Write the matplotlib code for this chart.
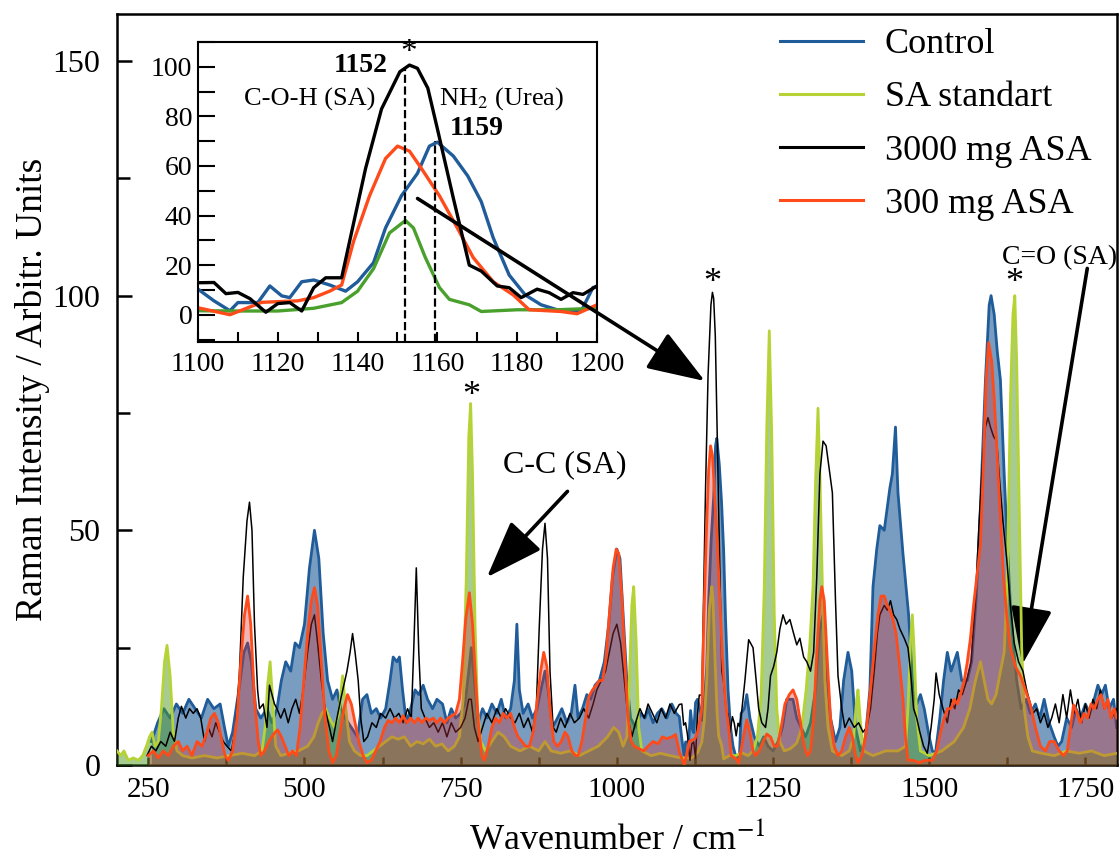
import numpy as np
import matplotlib
matplotlib.use('Agg')
import matplotlib.pyplot as plt
from matplotlib.ticker import MultipleLocator

plt.rcParams['font.family'] = 'Liberation Serif'
plt.rcParams['mathtext.fontset'] = 'stix'

# (wavenumber cm-1, intensity)
control = [
    (255, 5), (265, 9), (275, 12), (285, 10), (295, 13), (305, 11), (315, 14), (325, 12), (335, 10), (345, 14),
    (355, 12), (365, 13), (372, 8), (378, 4), (385, 7), (395, 16), (403, 24), (409, 26), (415, 22), (422, 12),
    (430, 10), (440, 12), (448, 9), (456, 12), (463, 18), (470, 22), (478, 20), (485, 26), (492, 25), (500, 30),
    (508, 42), (516, 50), (523, 44), (530, 28), (537, 18), (545, 14), (552, 16), (558, 12), (565, 10), (575, 8),
    (585, 6), (593, 14), (600, 15), (607, 11), (615, 12), (622, 10), (630, 12), (637, 18), (642, 23), (648, 22),
    (652, 23), (657, 16), (663, 9), (670, 12), (677, 16), (683, 15), (690, 17), (697, 14), (705, 12), (712, 14),
    (721, 13), (728, 9), (735, 12), (742, 10), (750, 11), (757, 13), (763, 20), (767, 25), (772, 18), (778, 9),
    (785, 12), (792, 10), (800, 13), (808, 11), (815, 14), (822, 10), (830, 12), (836, 18), (840, 30), (844, 16),
    (850, 11), (858, 13), (865, 10), (872, 12), (880, 17), (885, 20), (890, 16), (897, 8), (905, 10), (912, 12),
    (920, 9), (927, 11), (933, 17), (938, 10), (945, 12), (952, 15), (958, 14), (965, 17), (972, 18), (980, 22),
    (987, 30), (993, 40), (1000, 46), (1005, 44), (1010, 32), (1016, 18), (1022, 10), (1030, 8), (1038, 11),
    (1045, 10), (1050, 12), (1058, 9), (1065, 11), (1072, 12), (1080, 10), (1088, 13), (1095, 11), (1100, 10.3),
    (1104, 5.6), (1108, 1.6), (1110, 4.9), (1115, 4.9), (1118, 11.6), (1121, 7.6), (1123, 6.9), (1126, 13.3),
    (1129, 14), (1133, 12), (1137, 9.5), (1140, 13.3), (1144, 21), (1147, 35), (1151, 48), (1155, 57), (1158, 68),
    (1160, 69.6), (1164, 64), (1167.6, 56), (1171, 45.6), (1174, 31), (1178, 16), (1182, 8), (1186, 4), (1190, 2),
    (1196, 1.3), (1199, 11), (1204, 12), (1208, 15), (1213, 10), (1220, 6), (1228, 4), (1235, 6), (1242, 4),
    (1250, 3), (1258, 5), (1265, 8), (1272, 14), (1282, 14), (1288, 10), (1295, 8), (1302, 6), (1310, 9),
    (1318, 16), (1324, 28), (1330, 32), (1336, 20), (1342, 10), (1350, 5), (1357, 8), (1363, 18), (1370, 24),
    (1376, 20), (1382, 8), (1390, 3), (1398, 6), (1405, 16), (1410, 38), (1416, 46), (1421, 51), (1428, 50),
    (1433, 55), (1437, 59), (1441, 62), (1446, 72), (1450, 58), (1458, 45), (1467, 32), (1474, 16), (1480, 13),
    (1486, 15), (1492, 12), (1500, 6), (1505, 3), (1510, 2.5), (1517, 10), (1523, 18), (1529, 24), (1535, 20),
    (1540, 22), (1545, 24), (1552, 18), (1561, 18), (1568, 22), (1575, 35), (1582, 55), (1590, 82), (1596, 98),
    (1599, 100), (1604, 96), (1609, 88), (1614, 82), (1620, 62), (1625, 47), (1630, 34), (1635, 25), (1640, 18),
    (1647, 12), (1655, 14), (1662, 11), (1670, 13), (1677, 10), (1684, 14), (1692, 9), (1700, 6), (1706, 4),
    (1712, 5), (1720, 10), (1728, 8), (1735, 12), (1742, 10), (1750, 13), (1757, 11), (1764, 14), (1770, 17),
    (1776, 15), (1782, 17), (1788, 12), (1795, 14), (1800, 8),
]

sa_standart = [
    (200, 3), (206, 2), (211, 3), (218, 1), (226, 1.5), (234, 1), (241, 2), (247, 4), (252, 6), (256, 7),
    (261, 4), (266, 5), (271, 12), (276, 22), (280, 25.5), (285, 19), (290, 7), (296, 3), (305, 2), (320, 1.5),
    (340, 2), (360, 1.5), (380, 2), (400, 2.5), (420, 2), (432, 3), (437, 8), (441, 17), (445, 22), (449, 14),
    (454, 4), (462, 2), (475, 2.5), (490, 3), (505, 4), (515, 6), (522, 9), (528, 11), (534, 12), (540, 10),
    (548, 8), (555, 11), (561, 19), (566, 12), (572, 5), (580, 3), (590, 2), (600, 2), (610, 3), (620, 4),
    (630, 5), (640, 6), (650, 5.5), (660, 6), (670, 4), (680, 5), (690, 4.5), (700, 5.5), (710, 4), (720, 4.5),
    (730, 3), (740, 4), (748, 6), (754, 14), (759, 40), (763, 70), (766, 77), (769, 62), (773, 30), (777, 12),
    (782, 5), (790, 3), (800, 5), (810, 7), (820, 6), (830, 4), (845, 3), (860, 4), (875, 3), (885, 5),
    (895, 3), (910, 2.5), (925, 3), (940, 2), (955, 3), (970, 4), (985, 6), (995, 8), (1003, 7), (1010, 4),
    (1016, 6), (1020, 18), (1024, 34), (1027, 38), (1031, 26), (1035, 8), (1040, 3), (1055, 2), (1070, 2.5),
    (1085, 2), (1100, 1.6), (1110, 1.5), (1120, 1.5), (1129, 2.6), (1136, 4.9), (1140, 9.5), (1144, 18.6),
    (1148, 33), (1152, 38), (1154, 35), (1157, 23), (1160.5, 11), (1163, 6.2), (1168, 4), (1171, 1.3),
    (1180, 2), (1190, 2), (1200, 2.6), (1210, 2), (1218, 3), (1225, 6), (1231, 15), (1236, 38), (1240, 72),
    (1244, 92.5), (1248, 70), (1252, 32), (1256, 12), (1261, 5), (1268, 3), (1278, 3.5), (1288, 4.7),
    (1296, 8), (1303, 16), (1309, 26), (1314, 38), (1318, 60), (1322, 76), (1325, 62), (1329, 38), (1333, 18),
    (1338, 8), (1345, 3), (1360, 2), (1372, 3), (1379, 6), (1384, 14), (1386, 16), (1390, 9), (1395, 3),
    (1410, 2), (1430, 3), (1450, 3), (1462, 4), (1466, 12), (1470, 26), (1473, 32), (1476, 24), (1480, 10),
    (1486, 3), (1500, 2), (1520, 3), (1540, 5), (1555, 8), (1565, 12), (1574, 18), (1582, 22), (1588, 18),
    (1594, 14), (1600, 13), (1607, 15), (1614, 20), (1620, 24), (1625, 40), (1630, 78), (1634, 96),
    (1637, 100), (1640, 86), (1644, 55), (1648, 25), (1652, 12), (1658, 6), (1665, 3), (1680, 2.5),
    (1700, 2), (1720, 3), (1740, 2.5), (1760, 3), (1780, 2), (1800, 2.5),
]

asa_3000 = [
    (248, 2), (255, 4), (262, 3), (270, 5), (278, 4), (285, 7), (292, 5), (298, 10), (303, 12.5), (310, 10),
    (316, 12), (322, 11), (328, 12), (334, 10), (340, 5), (346, 8), (352, 6), (358, 9), (364, 7), (370, 5),
    (376, 4), (383, 3), (390, 8), (396, 20), (402, 40), (408, 52), (412, 56), (416, 50), (420, 30), (425, 16),
    (428, 12), (434, 13), (440, 8), (444, 17), (448, 15), (452, 13), (456, 12), (462, 10), (468, 12), (474, 9),
    (480, 12), (486, 14), (492, 11), (498, 16), (505, 24), (511, 30), (516, 32), (521, 26), (527, 18), (533, 12),
    (540, 8), (545, 5), (552, 10), (558, 14), (563, 17), (568, 20), (573, 24), (577, 28), (581, 24), (586, 18),
    (590, 10), (595, 5), (601, 6), (608, 9), (615, 8), (622, 11), (630, 10), (637, 12), (644, 10), (651, 11),
    (658, 9), (665, 12), (671, 10), (675, 25), (679, 42), (683, 24), (687, 12), (693, 10), (700, 8), (707, 9),
    (714, 7), (721, 9), (728, 6), (735, 9), (742, 7), (750, 8), (757, 10), (763, 14), (767, 14), (772, 8),
    (778, 5), (785, 8), (792, 11), (800, 9), (808, 12), (815, 10), (822, 12), (830, 10), (837, 9), (844, 11),
    (851, 8), (858, 10), (865, 7), (871, 12), (876, 30), (881, 46), (885, 51.5), (889, 44), (893, 20), (898, 8),
    (903, 7), (910, 10), (917, 8), (925, 11), (932, 9), (940, 10), (947, 12), (955, 10), (962, 13), (968, 16),
    (975, 18), (982, 20), (988, 24), (994, 28), (1000, 30), (1006, 26), (1012, 18), (1018, 10), (1024, 6),
    (1030, 9), (1037, 12), (1044, 10), (1050, 13), (1057, 11), (1064, 9), (1071, 12), (1078, 10), (1085, 13),
    (1092, 11), (1100, 12.9), (1104, 13), (1107, 8.5), (1110, 9), (1113, 6.5), (1117, 1), (1120, 4.5),
    (1123, 4.9), (1126, 1.5), (1129, 10.9), (1132, 14.9), (1136, 14.9), (1138, 29.6), (1142, 59), (1146, 83),
    (1150.6, 98), (1153, 100.7), (1155, 99.4), (1157.6, 91.4), (1160, 75), (1164, 47), (1168, 20), (1171, 17.6),
    (1175, 11.6), (1178, 10.9), (1181, 6.9), (1185, 10.3), (1188, 8.9), (1191, 6.2), (1194, 8.9), (1196.5, 8.2),
    (1200, 11.6), (1205, 18), (1211, 26.7), (1218, 25), (1223, 18), (1227, 12), (1232, 9), (1238, 8), (1242, 12),
    (1246, 19), (1251, 21), (1256, 24), (1261, 29), (1266, 32), (1271, 30), (1277, 31), (1283, 28), (1288, 25.6),
    (1293, 27), (1299, 23), (1304, 22), (1310, 20), (1315, 24), (1320, 40), (1325, 62), (1330, 69), (1335, 68),
    (1340, 63), (1345, 58), (1350, 35), (1354, 19), (1360, 12), (1365, 8), (1372, 10), (1380, 8), (1387, 9),
    (1394, 7), (1400, 8), (1406, 12), (1412, 20), (1417, 28), (1421, 32), (1428, 34), (1433, 33), (1438, 35),
    (1443, 32), (1448, 31), (1453, 29), (1460, 27), (1466, 25), (1470, 20), (1475, 12), (1480, 10), (1485, 7),
    (1491, 4), (1497, 2.5), (1503, 8), (1508, 14), (1511, 19.6), (1516, 15), (1522, 12), (1529, 9), (1535, 14),
    (1541, 12), (1547, 16), (1553, 15), (1560, 18), (1567, 22), (1574, 35), (1580, 52), (1586, 66), (1590, 72),
    (1594, 74), (1598, 72), (1603, 70), (1608, 69), (1613, 60), (1618, 52), (1624, 44), (1630, 34), (1636, 26),
    (1643, 22), (1650, 20), (1656, 16), (1662, 13), (1666, 11), (1672, 12), (1678, 9), (1684, 11), (1690, 8),
    (1696, 10), (1702, 13), (1708, 9), (1714, 15), (1720, 10), (1726, 16), (1732, 11), (1738, 14), (1744, 9),
    (1750, 13), (1756, 10), (1762, 14), (1768, 12), (1774, 16), (1780, 12), (1786, 14), (1792, 10), (1800, 12),
]

asa_300 = [
    (250, 2), (258, 3), (266, 1.5), (274, 3), (282, 2), (290, 4), (298, 5), (305, 3), (312, 4), (320, 2),
    (328, 5), (336, 4), (344, 7), (350, 10), (356, 11), (362, 9), (368, 5), (373, 2), (378, 1), (385, 3),
    (392, 10), (398, 22), (404, 32), (409, 36), (414, 30), (420, 14), (426, 5), (430, 2), (436, 3), (443, 5),
    (450, 6.5), (457, 7.5), (463, 6), (469, 4), (475, 2), (481, 3), (487, 2), (493, 8), (499, 18), (505, 28),
    (511, 35), (516, 37.8), (521, 34), (527, 22), (533, 10), (539, 3), (545, 0.5), (551, 2), (557, 7), (563, 12),
    (569, 15), (575, 13), (581, 9), (587, 5), (594, 2), (600, 0.5), (607, 1), (614, 3), (621, 5), (628, 8),
    (634, 9.5), (640, 9), (646, 10), (652, 9), (658, 10.5), (664, 9), (670, 10), (676, 9), (682, 10), (688, 9),
    (694, 10), (700, 9.5), (706, 10), (712, 9), (718, 10), (724, 9), (730, 10), (736, 10.5), (742, 11), (748, 14),
    (753, 22), (758, 31), (764, 36.7), (769, 30), (774, 18), (779, 8), (784, 2), (788, 1), (794, 4), (800, 8),
    (806, 10), (812, 9), (818, 11), (824, 10), (830, 11), (836, 8), (842, 6), (848, 5), (854, 4), (860, 4),
    (866, 7), (872, 13), (878, 20), (883, 24), (888, 21), (893, 12), (899, 5), (905, 4), (911, 5), (917, 7),
    (922, 6), (928, 3), (934, 2), (938, 2), (944, 5), (950, 10), (955, 14.5), (961, 16), (967, 17), (972, 18),
    (977, 18), (982, 22), (988, 32), (994, 42), (999, 46), (1003, 45), (1008, 36), (1013, 22), (1018, 10),
    (1023, 5), (1028, 4), (1035, 3.5), (1043, 3), (1050, 4), (1058, 5), (1066, 4.5), (1073, 6), (1080, 5.6),
    (1088, 6), (1094, 6.5), (1100, 2.8), (1108, 0), (1116, 5), (1125, 5.6), (1129, 6.9), (1133, 9.5), (1136, 12),
    (1139, 29.6), (1143, 48), (1147, 63), (1150, 68), (1153, 66), (1156, 59), (1160.5, 48), (1165, 35),
    (1169, 23), (1174, 13.3), (1179, 8), (1183, 2), (1191, 1.3), (1195, 0.4), (1200, 4), (1204, 7), (1208, 9.6),
    (1213, 7), (1218, 3), (1222, 2), (1228, 3), (1234, 5), (1240, 6.6), (1246, 6), (1252, 4), (1257, 4),
    (1263, 8), (1269, 13), (1276, 15), (1282, 16), (1288, 14), (1294, 9), (1300, 4), (1305, 2), (1310, 3),
    (1315, 10), (1320, 24), (1325, 35), (1328, 38), (1332, 35), (1337, 22), (1342, 10), (1348, 4), (1354, 2),
    (1360, 3), (1366, 6), (1372, 8), (1377, 6), (1382, 2), (1386, 0.5), (1392, 2), (1398, 6), (1403, 12),
    (1408, 19), (1413, 26), (1418, 32), (1423, 36), (1428, 36), (1433, 34), (1437, 33), (1442, 31), (1447, 28),
    (1452, 22), (1458, 14), (1462, 6), (1466, 1), (1474, 1), (1484, 0.5), (1494, 1), (1505, 1), (1512, 3),
    (1518, 7), (1524, 10), (1529, 12), (1535, 12), (1540, 14), (1545, 13), (1550, 15), (1556, 18), (1561, 22),
    (1566, 27), (1571, 34), (1576, 40), (1582, 47), (1587, 65), (1591, 82), (1595, 90), (1600, 86), (1604, 78),
    (1608, 68), (1613, 55), (1619, 40), (1624, 32), (1630, 25), (1638, 21), (1646, 19), (1654, 16), (1662, 12.8),
    (1670, 8), (1678, 4), (1686, 3), (1693, 5), (1700, 5), (1708, 3), (1715, 2), (1721, 3), (1726, 8),
    (1731, 12.8), (1737, 11), (1742, 9), (1748, 11), (1753, 10), (1759, 13), (1764, 12), (1770, 14), (1775, 15),
    (1781, 12), (1786, 14), (1791, 10), (1796, 12), (1800, 10),
]

labels = ['Control', 'SA standart', '3000 mg ASA', '300 mg ASA']
c_blue, c_sa, c_black, c_red = '#1f5c99', '#b5d334', 'black', '#ff4a1a'


def xy(pts):
    a = np.array(pts, dtype=float)
    return a[:, 0], a[:, 1]


fig = plt.figure(figsize=(11.2, 8.61), dpi=100)
ax = fig.add_axes([0.1045, 0.1115, 0.8925, 0.8722])

cx, cy = xy(control)
sx, sy = xy(sa_standart)
bx, by = xy(asa_3000)
ox, oy = xy(asa_300)

ax.fill_between(cx, cy, color=c_blue, alpha=0.6, lw=0, zorder=1)
l1, = ax.plot(cx, cy, color=c_blue, lw=2.0, zorder=2)
ax.fill_between(sx, sy, color='#4f9a2a', alpha=0.5, lw=0, zorder=3)
l2, = ax.plot(sx, sy, color=c_sa, lw=2.0, zorder=4)
l3, = ax.plot(bx, by, color=c_black, lw=1.1, zorder=5)
ax.fill_between(ox, oy, color='#d43030', alpha=0.35, lw=0, zorder=6)
l4, = ax.plot(ox, oy, color=c_red, lw=2.0, zorder=7)

ax.set_xlim(200, 1800)
ax.set_ylim(0, 160)
ax.xaxis.set_major_locator(MultipleLocator(250))
ax.xaxis.set_minor_locator(MultipleLocator(125))
ax.yaxis.set_major_locator(MultipleLocator(50))
ax.yaxis.set_minor_locator(MultipleLocator(25))
ax.tick_params(axis='both', which='both', direction='in', width=1.8)
ax.tick_params(axis='x', which='both', length=6, pad=9, labelsize=21)
ax.tick_params(axis='y', which='major', length=11, pad=12, labelsize=23)
ax.tick_params(axis='y', which='minor', length=9)
for s in ax.spines.values():
    s.set_linewidth(1.8)
ax.set_xlabel('Wavenumber / cm$^{-1}$', fontsize=26, labelpad=13)
ax.set_ylabel('Raman Intensity / Arbitr. Units', fontsize=27, labelpad=2)

leg = ax.legend([l1, l2, l3, l4], labels, loc='upper left', bbox_to_anchor=(0.6964, 0.9675),
                bbox_transform=fig.transFigure, frameon=False, fontsize=26, handlelength=2.3,
                handletextpad=0.6, labelspacing=0.55, borderpad=0, borderaxespad=0)
for h in leg.legend_handles:
    h.set_linewidth(2.2)

arrow = dict(arrowstyle='-|>,head_length=1.8,head_width=0.65', color='black', lw=2.6,
             mutation_scale=20, shrinkA=0, shrinkB=0)

# peak markers and band labels
for x in (767, 1152, 1636):
    y = 82 if x == 767 else 106
    ax.text(x, y, '*', ha='center', va='top', fontsize=26)
ax.text(917, 64, 'C-C (SA)', ha='center', va='center', fontsize=23)
ax.annotate('', xy=(792, 40), xytext=(921, 58.3), arrowprops=arrow)
ax.text(1801, 108, 'C=O (SA)', ha='right', va='center', fontsize=20)
ax.annotate('', xy=(1649, 21.4), xytext=(1753, 105.8), arrowprops=arrow)

# inset
ins = fig.add_axes([0.1768, 0.6028, 0.3562, 0.3484])
ins.plot(cx, cy, color=c_blue, lw=2.4)
ins.plot(sx, sy, color='#4aa02c', lw=2.4)
ins.plot(ox, oy, color=c_red, lw=2.4)
ins.plot(bx, by, color=c_black, lw=2.4)
ins.set_xlim(1100, 1200)
ins.set_ylim(-11, 110)
ins.xaxis.set_major_locator(MultipleLocator(20))
ins.xaxis.set_minor_locator(MultipleLocator(10))
ins.yaxis.set_major_locator(MultipleLocator(20))
ins.yaxis.set_minor_locator(MultipleLocator(10))
ins.tick_params(axis='both', which='both', direction='in', width=1.5, labelsize=20)
ins.tick_params(axis='x', which='both', length=7, pad=7)
ins.tick_params(axis='y', which='both', length=12, pad=4)
for s in ins.spines.values():
    s.set_linewidth(1.5)
ins.vlines(1152, -11, 100, colors='black', linestyles='--', lw=1.6)
ins.vlines(1159.5, -11, 70, colors='black', linestyles='--', lw=1.6)
ins.text(1152.8, 112, '*', ha='center', va='top', fontsize=24)
ins.text(1147.5, 100.5, '1152', ha='right', va='center', fontsize=20, fontweight='bold')
ins.text(1128, 87, 'C-O-H (SA)', ha='center', va='center', fontsize=19)
ins.text(1176, 87, 'NH$_2$ (Urea)', ha='center', va='center', fontsize=19)
ins.text(1163, 75, '1159', ha='left', va='center', fontsize=20, fontweight='bold')
ins.annotate('', xy=(1141, 81.8), xycoords=ax.transData, xytext=(681, 120.7), textcoords=ax.transData,
             arrowprops=arrow)

fig.savefig('out.png', dpi=100)
